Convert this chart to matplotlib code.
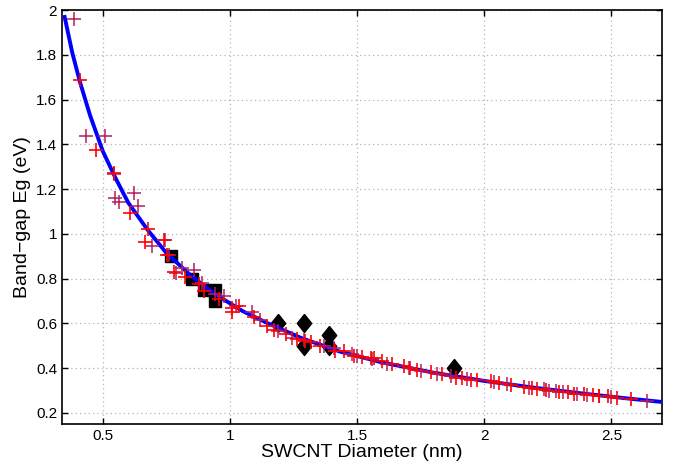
import matplotlib
matplotlib.use('Agg')
import matplotlib.pyplot as plt

plt.rcParams['font.family'] = ['Liberation Sans', 'DejaVu Sans']

# Fitted curve
curve_d = [0.35, 0.38, 0.41, 0.45, 0.50, 0.55, 0.60, 0.675, 0.75, 0.85, 0.95,
           1.05, 1.15, 1.28, 1.43, 1.60, 1.80, 2.00, 2.20, 2.40, 2.56, 2.69]
curve_eg = [1.97, 1.81, 1.68, 1.53, 1.37, 1.25, 1.14, 1.02, 0.915, 0.81, 0.725,
            0.655, 0.60, 0.535, 0.475, 0.425, 0.38, 0.343, 0.312, 0.285, 0.265, 0.25]

# Red '+' data
red_d = [0.41, 0.474, 0.545, 0.607, 0.676, 0.665, 0.753, 0.740, 0.779, 0.825,
         0.877, 0.897, 0.956, 1.009, 1.009, 1.035, 1.094, 1.146, 1.172, 1.219,
         1.265, 1.297, 1.317, 1.356, 1.415, 1.448, 1.487, 1.553, 1.566, 1.639,
         1.684, 1.737, 1.790, 1.835, 1.888, 1.914, 1.947, 2.026, 2.104, 2.157,
         2.209, 2.242, 2.294, 2.353, 2.393, 2.426, 2.485, 2.524, 2.577,
         1.52, 1.60, 1.71, 1.97, 2.06, 2.19, 2.33, 2.45]
red_eg = [1.69, 1.376, 1.272, 1.092, 1.02, 0.965, 0.908, 0.972, 0.828, 0.806,
          0.776, 0.746, 0.709, 0.649, 0.671, 0.679, 0.627, 0.589, 0.570, 0.552,
          0.530, 0.522, 0.519, 0.500, 0.477, 0.477, 0.455, 0.447, 0.444, 0.420,
          0.410, 0.390, 0.384, 0.373, 0.357, 0.357, 0.345, 0.343, 0.323, 0.317,
          0.308, 0.301, 0.295, 0.286, 0.286, 0.280, 0.275, 0.265, 0.260,
          0.450, 0.430, 0.400, 0.348, 0.333, 0.312, 0.292, 0.277]

# Purple '+' data
purple_d = [0.385, 0.435, 0.51, 0.545, 0.548, 0.563, 0.624, 0.637, 0.694, 0.743,
            0.760, 0.786, 0.812, 0.858, 0.891, 0.943, 0.976, 1.022, 1.087, 1.120,
            1.19, 1.245, 1.29, 1.371, 1.409, 1.481, 1.50, 1.56, 1.619, 1.704,
            1.75, 1.816, 1.868, 1.934, 2.039, 2.091, 2.176, 2.235, 2.255, 2.281,
            2.308, 2.366, 2.406, 2.452, 2.498, 2.64]
purple_eg = [1.96, 1.437, 1.44, 1.27, 1.16, 1.143, 1.183, 1.124, 0.946, 0.975,
             0.905, 0.824, 0.848, 0.839, 0.779, 0.731, 0.724, 0.679, 0.649, 0.615,
             0.565, 0.537, 0.525, 0.500, 0.492, 0.462, 0.455, 0.440, 0.418, 0.402,
             0.387, 0.375, 0.365, 0.350, 0.338, 0.328, 0.313, 0.305, 0.298, 0.298,
             0.295, 0.283, 0.280, 0.275, 0.270, 0.253]

# Black squares
sq_d = [0.77, 0.85, 0.90, 0.94, 0.94]
sq_eg = [0.90, 0.80, 0.75, 0.75, 0.70]

# Black diamonds
dm_d = [1.19, 1.29, 1.29, 1.39, 1.39, 1.88]
dm_eg = [0.60, 0.60, 0.50, 0.55, 0.50, 0.40]

fig = plt.figure(figsize=(6.75, 4.65), dpi=100)
ax = fig.add_axes([0.092, 0.088, 0.889, 0.890])

diamond = [(0, 1), (0.8, 0), (0, -1), (-0.8, 0), (0, 1)]
ax.plot(sq_d, sq_eg, 's', color='black', ms=8.5, zorder=2)
ax.plot(dm_d, dm_eg, marker=diamond, ls='none', color='black', ms=13, zorder=2)
ax.plot(curve_d, curve_eg, '-', color='#0000ff', lw=2.8, zorder=3)
ax.plot(purple_d, purple_eg, '+', color='#b02060', ms=9.5, mew=1.1, zorder=4)
ax.plot(red_d, red_eg, '+', color='#ff0000', ms=9.5, mew=1.2, zorder=5)

ax.set_xlim(0.34, 2.70)
ax.set_ylim(0.15, 2.0)
ax.set_xticks([0.5, 1, 1.5, 2, 2.5])
ax.set_xticklabels(['0.5', '1', '1.5', '2', '2.5'])
yt = [0.2, 0.4, 0.6, 0.8, 1.0, 1.2, 1.4, 1.6, 1.8, 2.0]
ax.set_yticks(yt)
ax.set_yticklabels(['0.2', '0.4', '0.6', '0.8', '1', '1.2', '1.4', '1.6', '1.8', '2'])

ax.grid(True, color='#b4b4b4', lw=0.9, dashes=(1, 2.5))
ax.set_axisbelow(True)
ax.tick_params(direction='in', top=True, right=True, length=4, width=1,
               labelsize=11)
for s in ax.spines.values():
    s.set_linewidth(1.2)

ax.set_xlabel('SWCNT Diameter (nm)', fontsize=14, labelpad=1)
ax.set_ylabel('Band\u2212gap Eg (eV)', fontsize=14, labelpad=4)

fig.savefig('out.png', dpi=100)
